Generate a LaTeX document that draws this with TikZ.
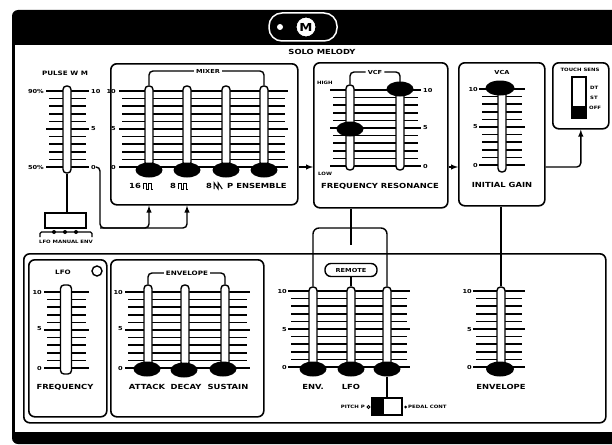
\documentclass[tikz,border=0pt]{standalone}
\usepackage{fontspec}
\newfontfamily\panelfont{DejaVu Sans}[FakeStretch=1.2]
\usetikzlibrary{calc, arrows, shapes.geometric, positioning}

% scale: 11 ticks between top (10) and bottom (0)
\newcommand{\ticks}[4]{%
  \foreach \i in {0,...,10}
    \draw[tick] ({#1},{#4-\i*(#4-#3)/10}) -- ({#2},{#4-\i*(#4-#3)/10});
  \foreach \i in {0,5,10}
    \draw[tick] ({#1-3},{#4-\i*(#4-#3)/10}) -- ({#2+3},{#4-\i*(#4-#3)/10});
}
% slider track: [width] name, x, top, bottom
\newcommand{\fader}[5][8]{%
  \node[track, minimum width=#1, minimum height={#5-#4}] (#2) at (#3,{(#4+#5)/2}) {};
}

\begin{document}
\begin{tikzpicture}[x=1pt, y=-1pt,
    panel/.style={draw, line width=1.6pt, rounded corners=6pt, anchor=north west, inner sep=0},
    track/.style={draw, fill=white, line width=1.4pt, rounded corners=3.5pt, inner sep=0},
    knob/.style={ellipse, fill=black, minimum width=27pt, minimum height=15pt, inner sep=0},
    tick/.style={line width=1.7pt},
    lbl/.style={font=\panelfont\bfseries\fontsize{7}{8}\selectfont, inner sep=0},
    fine/.style={font=\panelfont\bfseries\fontsize{4.5}{5}\selectfont, inner sep=0},
    num/.style={font=\panelfont\bfseries\fontsize{5.5}{6}\selectfont, inner sep=0},
    wire/.style={line width=1.4pt, rounded corners=4pt},
    flow/.style={wire, -latex},
    wave/.style={line width=1pt}]
\def\sigy{167}

    \useasboundingbox (0,0) rectangle (612,444);

    %Frame
    \fill (612,10) [rounded corners=6pt] -- (12,10) -- (12,444) [sharp corners] -- (612,444) -- cycle;
    \fill[white] (15,45) rectangle (612,432);
    \node[draw=white, fill=black, line width=1.5pt, rounded corners=13pt, minimum width=68pt, minimum height=28pt] (mbtn) at (303,27) {};
    \node[circle, fill=white, inner sep=0, minimum size=6pt] (mled) at (280,27) {};
    \node[circle, fill=white, draw=black, line width=1pt, inner sep=0, minimum size=20pt, font=\panelfont\bfseries\fontsize{11}{12}\selectfont] (mkey) at (306,27) {M};
    \node[lbl] (solo) at (322,52) {SOLO MELODY};

    %Pulse width
    \node[lbl, font=\panelfont\bfseries\fontsize{6}{7}\selectfont] (pwlabel) at (65,73) {PULSE W M};
    \ticks{49}{86}{91}{167}
    \fader{pw}{67}{86}{173}
    \node[num, anchor=east] (pwhi) at (44,91) {90\%};
    \node[num, anchor=east] (pwlo) at (44,167) {50\%};
    \node[num, anchor=west] (pw10) at (91,91) {10};
    \node[num, anchor=west] (pw5) at (91,129) {5};
    \node[num, anchor=west] (pw0) at (91,167) {0};
    \node[draw, line width=1.4pt, minimum width=41pt, minimum height=15pt, inner sep=0] (pwsrc) at (65.5,220.5) {};
    \draw[wire] (pw.south) -- (pw.south |- pwsrc.north);
    \draw[wire, rounded corners=1.5pt] (40,237) -- (40,232) -- (92,232) -- (92,237);
    \foreach \x in {54,65,76} \fill (\x,232) circle (2);
    \node[fine] (pwsrclabel) at (66,242) {LFO MANUAL ENV};

    %Mixer
    \node[panel, minimum width=187pt, minimum height=141pt] (mixer) at (110,63) {};
    \ticks{122}{285}{91}{167}
    \fader{mxa}{149}{86}{166}
    \fader{mxb}{187}{86}{166}
    \fader{mxc}{226}{86}{166}
    \fader{mxd}{264}{86}{166}
    \node[knob] (mxaknob) at (149,170) {};
    \node[knob] (mxbknob) at (187,170) {};
    \node[knob] (mxcknob) at (226,170) {};
    \node[knob] (mxdknob) at (264,170) {};
    \node[num, anchor=east] (mx10) at (116,91) {10};
    \node[num, anchor=east] (mx5) at (116,129) {5};
    \node[num, anchor=east] (mx0) at (116,167) {0};
    \node[lbl, font=\panelfont\bfseries\fontsize{5.5}{6}\selectfont, inner sep=2pt] (mixerlabel) at (208,71) {MIXER};
    \draw[wire] (mxa.north) |- (mixerlabel.west);
    \draw[wire] (mixerlabel.east) -| (mxd.north);
    \node[lbl, anchor=west] (mxalabel) at (129,186) {16};
    \node[lbl, anchor=west] (mxblabel) at (170,186) {8};
    \node[lbl, anchor=west] (mxclabel) at (206,186) {8};
    \node[lbl, anchor=west] (mxdlabel) at (227,186) {P ENSEMBLE};
    \draw[wave] ($(mxalabel.east)+(2,3)$) -- ++(0,-6) -- ++(3,0) -- ++(0,6) -- ++(2,0) -- ++(0,-6) -- ++(3,0) -- ++(0,6) -- ++(2,0);
    \draw[wave] ($(mxblabel.east)+(2,3)$) -- ++(0,-6) -- ++(3,0) -- ++(0,6) -- ++(2,0) -- ++(0,-6) -- ++(3,0) -- ++(0,6) -- ++(2,0);
    \draw[wave] ($(mxclabel.east)+(2,3)$) -- ++(0,-6) -- ++(4,6) -- ++(0,-6) -- ++(4,6);

    %VCF
    \node[panel, minimum width=134pt, minimum height=145pt] (vcf) at (313,62) {};
    \ticks{333}{418}{90}{166}
    \fader{vcffreq}{350}{85}{170}
    \fader{vcfres}{400}{85}{170}
    \node[knob] (vcffreqknob) at (350,129) {};
    \node[knob] (vcfresknob) at (400,89) {};
    \node[fine, anchor=west] (vcfhigh) at (317,83) {HIGH};
    \node[fine, anchor=west] (vcflow) at (318,174) {LOW};
    \node[num, anchor=west] (vcf10) at (423,90) {10};
    \node[num, anchor=west] (vcf5) at (423,128) {5};
    \node[num, anchor=west] (vcf0) at (423,166) {0};
    \node[lbl, font=\panelfont\bfseries\fontsize{5.5}{6}\selectfont, inner sep=2pt] (vcflabel) at (375,72) {VCF};
    \draw[wire] (vcffreq.north) |- (vcflabel.west);
    \draw[wire] (vcflabel.east) -| (vcfres.north);
    \node[lbl] (vcfnames) at (380,186) {FREQUENCY RESONANCE};

    %VCA
    \node[panel, minimum width=86pt, minimum height=143pt] (vca) at (458,62) {};
    \ticks{482}{522}{89}{165}
    \fader{vcagain}{502}{83}{172}
    \node[knob, minimum width=29pt] (vcaknob) at (500,88) {};
    \node[num, anchor=east] (vca10) at (478,89) {10};
    \node[num, anchor=east] (vca5) at (478,127) {5};
    \node[num, anchor=east] (vca0) at (478,165) {0};
    \node[lbl, font=\panelfont\bfseries\fontsize{5.5}{6}\selectfont] (vcalabel) at (502,72) {VCA};
    \node[lbl] (vcaname) at (502,185) {INITIAL GAIN};

    %Touch sens
    \node[panel, minimum width=56pt, minimum height=66pt] (touch) at (552,62) {};
    \node[fine] (touchlabel) at (580,70) {TOUCH SENS};
    \node[draw, line width=1.4pt, minimum width=14pt, minimum height=41pt, inner sep=0] (touchsw) at (579,97.5) {};
    \fill (touchsw.south west) rectangle ([yshift=13pt]touchsw.south east);
    \node[fine, anchor=west] (touchdt) at (590,88) {DT};
    \node[fine, anchor=west] (touchst) at (590,98) {ST};
    \node[fine, anchor=west] (touchoff) at (589,108) {OFF};

    %Signal flow
    \coordinate (sig) at (0,\sigy);
    \coordinate (pwbus) at (100,228);
    \draw[flow] (pw0.east) -| (pwbus) -| (mixer.south -| mxa.south);
    \draw[flow] (pwbus) -| (mixer.south -| mxb.south);
    \draw[flow] (mixer.east |- sig) -- (vcf.west |- sig);
    \draw[flow] (vcf.east |- sig) -- (vca.west |- sig);
    \draw[flow] (vca.east |- sig) -| (touch.south);

    %Lower panel
    \node[panel, minimum width=582pt, minimum height=169pt] (lower) at (23,253) {};
    \node[panel, minimum width=78pt, minimum height=157pt] (lfo) at (28,259) {};
    \node[panel, minimum width=153pt, minimum height=157pt] (env) at (110,259) {};

    %LFO
    \node[lbl, font=\panelfont\bfseries\fontsize{6}{7}\selectfont] (lfolabel) at (63,272) {LFO};
    \node[circle, draw, line width=1.4pt, minimum size=10pt, inner sep=0] (lfoled) at (97,271) {};
    \ticks{47}{86}{292}{368}
    \fader[11]{lfofreq}{66}{285}{374}
    \node[num, anchor=east] (lfo10) at (42,292) {10};
    \node[num, anchor=east] (lfo5) at (42,329) {5};
    \node[num, anchor=east] (lfo0) at (42,368) {0};
    \node[lbl] (lfoname) at (65,387) {FREQUENCY};

    %Envelope
    \ticks{128}{247}{292}{368}
    \fader{envatt}{148}{285}{366}
    \fader{envdec}{185}{285}{366}
    \fader{envsus}{225}{285}{366}
    \node[knob] (envattknob) at (147,369) {};
    \node[knob] (envdecknob) at (184,370) {};
    \node[knob] (envsusknob) at (223,369) {};
    \node[num, anchor=east] (env10) at (123,292) {10};
    \node[num, anchor=east] (env5) at (123,329) {5};
    \node[num, anchor=east] (env0) at (123,368) {0};
    \node[lbl, font=\panelfont\bfseries\fontsize{6}{7}\selectfont, inner sep=2pt] (envlabel) at (187,273) {ENVELOPE};
    \draw[wire] (envatt.north) |- (envlabel.west);
    \draw[wire] (envlabel.east) -| (envsus.north);
    \node[lbl] (envatn) at (147,387) {ATTACK};
    \node[lbl] (envdcn) at (186,387) {DECAY};
    \node[lbl] (envssn) at (228,387) {SUSTAIN};

    %Remote
    \ticks{291}{407}{291}{367}
    \fader{rmenv}{313}{287}{366}
    \fader{rmlfo}{351}{287}{366}
    \fader{rmpitch}{387}{287}{366}
    \node[knob] (rmenvknob) at (313,369) {};
    \node[knob] (rmlfoknob) at (351,369) {};
    \node[knob] (rmpitchknob) at (387,369) {};
    \node[num, anchor=east] (rm10) at (287,291) {10};
    \node[num, anchor=east] (rm5) at (287,330) {5};
    \node[num, anchor=east] (rm0) at (287,367) {0};
    \node[draw, line width=1.4pt, rounded corners=6pt, minimum width=52pt, minimum height=13pt, inner sep=0, font=\panelfont\bfseries\fontsize{5.5}{6}\selectfont] (remote) at (351,270) {REMOTE};
    \draw[wire] (remote.south) -- (rmlfo.north);
    \coordinate (rmtop) at (351,228);
    \draw[wire, rounded corners=6pt] (rmenv.north) |- (rmtop) -| (rmpitch.north);
    \coordinate (vcfend) at (351,245);
    \draw[wire] (vcf.south -| vcfend) -- (vcfend);
    \node[lbl] (rmenvname) at (313,387) {ENV.};
    \node[lbl] (rmlfoname) at (351,387) {LFO};
    \node[draw, line width=1.4pt, minimum width=19pt, minimum height=17pt, inner sep=0] (pedalsw) at (392.5,406.5) {};
    \node[draw, fill=black, line width=1.4pt, minimum width=11pt, minimum height=17pt, inner sep=0] (pitchsw) at (377.5,406.5) {};
    \draw[wire] (rmpitchknob.south) -- (rmpitchknob.south |- pedalsw.north);
    \node[fine, anchor=east] (pitchlabel) at (365,407) {PITCH P};
    \draw[line width=0.8pt] (368.5,407) circle (1.5);
    \fill (405.5,407) circle (1.5);
    \node[fine, anchor=west] (pedallabel) at (408,407) {PEDAL CONT};

    %VCA envelope
    \ticks{476}{522}{291}{367}
    \fader{vcaenv}{501}{287}{366}
    \node[knob, minimum width=28pt] (vcaenvknob) at (500,369) {};
    \node[num, anchor=east] (ve10) at (472,291) {10};
    \node[num, anchor=east] (ve5) at (472,330) {5};
    \node[num, anchor=east] (ve0) at (472,367) {0};
    \node[lbl] (vcaenvname) at (501,387) {ENVELOPE};
    \draw[wire] (vca.south -| vcaenv.north) -- (vcaenv.north);
\end{tikzpicture}
\end{document}
